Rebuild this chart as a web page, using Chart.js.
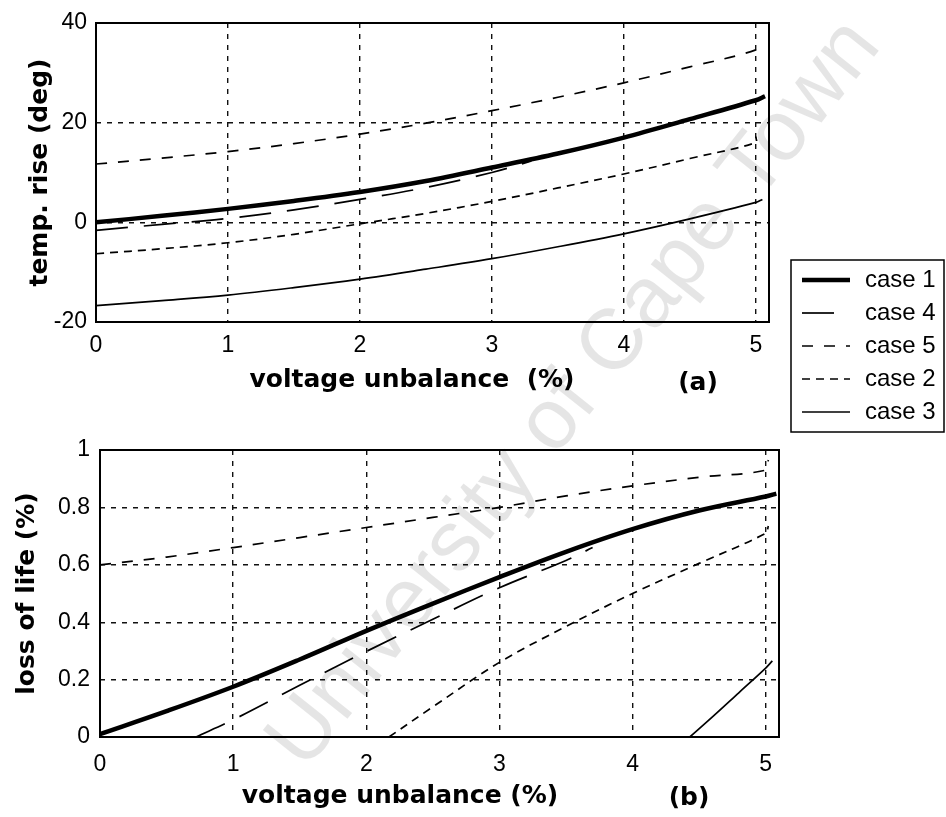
<!DOCTYPE html>
<html>
<head>
<meta charset="utf-8">
<script src="https://cdn.jsdelivr.net/npm/chart.js@4.4.1/dist/chart.umd.min.js"></script>
<style>
html, body { margin: 0; padding: 0; background: #fff; }
#wrap { position: relative; width: 946px; height: 817px; overflow: hidden; background: #fff; }
#wrap canvas { position: absolute; left: 0; top: 0; }
</style>
</head>
<body>
<div id="wrap">
  <canvas id="cTop" width="946" height="817"></canvas>
  <canvas id="cBot" width="946" height="817"></canvas>
</div>
<script>
// ---------- data ----------
const seriesNames = ['case 1', 'case 4', 'case 5', 'case 2', 'case 3'];
const xTicks = [0, 1, 2, 3, 4, 5];
const tempTicks = [-20, 0, 20, 40];
const lifeTicks = [0, 0.2, 0.4, 0.6, 0.8, 1];

const xTitleA = 'voltage unbalance  (%)';
const xTitleB = 'voltage unbalance (%)';
const tagA = '(a)';
const tagB = '(b)';
const yTitleA = 'temp. rise (deg)';
const yTitleB = 'loss of life (%)';
const watermark = 'University of Cape Town';

// (a) temperature rise (deg) vs voltage unbalance (%)
const tempCase1X = [0, 0.5, 1, 1.5, 2, 2.5, 3, 3.5, 4, 4.5, 5, 5.07];
const tempCase1Y = [0, 1.3, 2.7, 4.3, 6.1, 8.3, 11, 13.8, 17, 20.7, 24.5, 25.3];
const tempCase4X = [0, 0.5, 1, 1.5, 2, 2.5, 3, 3.3];
const tempCase4Y = [-1.6, -0.4, 0.8, 2.5, 4.6, 7, 10, 12.3];
const tempCase5X = [0, 0.5, 1, 1.5, 2, 2.5, 3, 3.5, 4, 4.5, 5, 5];
const tempCase5Y = [11.7, 12.9, 14.2, 15.8, 17.7, 19.9, 22.4, 25.1, 28, 31.2, 34.6, 35.8];
const tempCase2X = [0, 0.5, 1, 1.5, 2, 2.5, 3, 3.5, 4, 4.5, 5, 5];
const tempCase2Y = [-6.3, -5.3, -4.1, -2.4, -0.3, 1.8, 4.2, 6.9, 9.7, 12.8, 16, 17.2];
const tempCase3X = [0, 0.5, 1, 1.5, 2, 2.5, 3, 3.5, 4, 4.5, 5, 5.05];
const tempCase3Y = [-16.7, -15.7, -14.6, -13.1, -11.4, -9.4, -7.3, -4.9, -2.3, 0.7, 4, 4.6];

// (b) loss of life (%) vs voltage unbalance (%)
const lifeCase1X = [0, 0.5, 1, 1.5, 2, 2.5, 3, 3.5, 4, 4.5, 5, 5.08];
const lifeCase1Y = [0.01, 0.09, 0.175, 0.27, 0.37, 0.465, 0.557, 0.645, 0.724, 0.789, 0.838, 0.848];
const lifeCase4X = [0.72, 1, 1.5, 2, 2.5, 3, 3.5, 3.7];
const lifeCase4Y = [0, 0.06, 0.18, 0.298, 0.41, 0.52, 0.615, 0.66];
const lifeCase5X = [0, 0.5, 1, 1.5, 2, 2.5, 3, 3.5, 4, 4.5, 5, 5.02];
const lifeCase5Y = [0.6, 0.627, 0.66, 0.695, 0.73, 0.765, 0.8, 0.84, 0.875, 0.905, 0.93, 0.965];
const lifeCase2X = [2.17, 2.5, 3, 3.5, 4, 4.5, 5, 5.02];
const lifeCase2Y = [0, 0.105, 0.26, 0.385, 0.5, 0.605, 0.71, 0.735];
const lifeCase3X = [4.43, 4.6, 4.8, 5, 5.05];
const lifeCase3Y = [0, 0.07, 0.155, 0.24, 0.265];

// ---------- styles ----------
const lineStyles = [
  { width: 4.5, dash: [] },       // case 1
  { width: 1.7, dash: [32, 16] }, // case 4
  { width: 1.7, dash: [11, 11] }, // case 5
  { width: 1.7, dash: [8, 6] },   // case 2
  { width: 1.7, dash: [] }        // case 3
];
const tickFont = { family: 'Liberation Sans', size: 23 };
const titleFont = { family: 'DejaVu Sans', size: 25, weight: 'bold' };

function pts(xs, ys) { return xs.map((x, i) => ({ x: x, y: ys[i] })); }

function makeDatasets(seriesList) {
  return seriesList.map((s, i) => ({
    label: seriesNames[i],
    data: pts(s[0], s[1]),
    borderColor: '#000',
    backgroundColor: '#000',
    borderWidth: lineStyles[i].width,
    borderDash: lineStyles[i].dash,
    pointRadius: 0,
    fill: false,
    tension: 0.35,
    borderCapStyle: 'butt'
  }));
}

const boxPlugin = {
  id: 'plotBox',
  afterDatasetsDraw(chart) {
    const { ctx, chartArea: a } = chart;
    ctx.save();
    ctx.setLineDash([]);
    ctx.strokeStyle = '#000';
    ctx.lineWidth = 2;
    ctx.strokeRect(a.left, a.top, a.right - a.left, a.bottom - a.top);
    ctx.restore();
  }
};

const captionPlugin = {
  id: 'captions',
  afterDraw(chart, args, opts) {
    const ctx = chart.ctx;
    ctx.save();
    ctx.fillStyle = '#000';
    ctx.font = 'bold 25px "DejaVu Sans"';
    ctx.textAlign = 'center';
    ctx.textBaseline = 'middle';
    (opts.items || []).forEach(it => ctx.fillText(it.text, it.x, it.y));
    ctx.restore();
  }
};

const legendPlugin = {
  id: 'caseLegend',
  afterDraw(chart, args, o) {
    if (!o || !o.show) return;
    const ctx = chart.ctx;
    ctx.save();
    ctx.fillStyle = '#fff';
    ctx.fillRect(o.left, o.top, o.width, o.height);
    ctx.strokeStyle = '#000';
    ctx.lineWidth = 1.5;
    ctx.setLineDash([]);
    ctx.strokeRect(o.left, o.top, o.width, o.height);
    ctx.font = '24px "Liberation Sans"';
    ctx.textBaseline = 'middle';
    ctx.textAlign = 'left';
    ctx.fillStyle = '#000';
    chart.data.datasets.forEach((ds, i) => {
      const y = o.rowTop + i * o.rowGap;
      ctx.lineWidth = ds.borderWidth;
      ctx.setLineDash(ds.borderDash || []);
      ctx.beginPath();
      ctx.moveTo(o.sampleX, y);
      ctx.lineTo(o.sampleX + o.sampleLen, y);
      ctx.stroke();
      ctx.setLineDash([]);
      ctx.fillText(ds.label, o.textX, y);
    });
    ctx.restore();
  }
};

const watermarkPlugin = {
  id: 'watermark',
  afterDraw(chart, args, o) {
    if (!o || !o.text) return;
    const ctx = chart.ctx;
    ctx.save();
    ctx.translate(o.x, o.y);
    ctx.rotate(o.angle * Math.PI / 180);
    ctx.font = o.size + 'px "Liberation Sans"';
    ctx.fillStyle = 'rgba(0,0,0,0.1)';
    ctx.textBaseline = 'alphabetic';
    ctx.textAlign = 'left';
    ctx.fillText(o.text, 0, 0);
    ctx.restore();
  }
};

function makeScales(cfg) {
  return {
    x: {
      type: 'linear',
      min: 0,
      max: 5.1,
      afterBuildTicks: s => { s.ticks = xTicks.map(v => ({ value: v })); },
      afterFit: s => { s.height = 40; },
      ticks: { font: tickFont, color: '#000', padding: cfg.xPad, maxRotation: 0,
               callback: v => String(v) },
      grid: { color: '#111', lineWidth: 1.4, drawTicks: false },
      border: { display: false, dash: [5, 6] }
    },
    y: {
      type: 'linear',
      min: cfg.yMin,
      max: cfg.yMax,
      afterBuildTicks: s => { s.ticks = cfg.yTicks.map(v => ({ value: v })); },
      afterFit: s => { s.width = cfg.yWidth; },
      ticks: { font: tickFont, color: '#000', padding: cfg.yPad,
               callback: v => String(v) },
      grid: { color: '#111', lineWidth: 1.4, drawTicks: false },
      border: { display: false, dash: [5, 6] },
      title: { display: true, text: cfg.yTitle, font: titleFont, color: '#000',
               padding: { top: cfg.titlePad, bottom: 0 } }
    }
  };
}

Chart.defaults.font.family = 'Liberation Sans';

new Chart(document.getElementById('cTop'), {
  type: 'line',
  data: {
    datasets: makeDatasets([
      [tempCase1X, tempCase1Y], [tempCase4X, tempCase4Y], [tempCase5X, tempCase5Y],
      [tempCase2X, tempCase2Y], [tempCase3X, tempCase3Y]
    ])
  },
  options: {
    responsive: false,
    animation: false,
    events: [],
    layout: { padding: { left: 0, top: 23, right: 177, bottom: 455 } },
    scales: makeScales({ yMin: -20, yMax: 40, yTicks: tempTicks, yWidth: 96, yPad: 9,
                         xPad: 10, yTitle: yTitleA, titlePad: 25 }),
    plugins: {
      legend: { display: false },
      tooltip: { enabled: false },
      captions: { items: [ { text: xTitleA, x: 412, y: 380 }, { text: tagA, x: 698, y: 383 } ] }
    }
  },
  plugins: [boxPlugin, captionPlugin]
});

new Chart(document.getElementById('cBot'), {
  type: 'line',
  data: {
    datasets: makeDatasets([
      [lifeCase1X, lifeCase1Y], [lifeCase4X, lifeCase4Y], [lifeCase5X, lifeCase5Y],
      [lifeCase2X, lifeCase2Y], [lifeCase3X, lifeCase3Y]
    ])
  },
  options: {
    responsive: false,
    animation: false,
    events: [],
    layout: { padding: { left: 0, top: 450, right: 167, bottom: 40 } },
    scales: makeScales({ yMin: 0, yMax: 1, yTicks: lifeTicks, yWidth: 100, yPad: 10,
                         xPad: 14, yTitle: yTitleB, titlePad: 12 }),
    plugins: {
      legend: { display: false },
      tooltip: { enabled: false },
      captions: { items: [ { text: xTitleB, x: 400, y: 796 }, { text: tagB, x: 689, y: 798 } ] },
      caseLegend: { show: true, left: 791, top: 260, width: 153, height: 172,
                    rowTop: 280, rowGap: 33, sampleX: 802, sampleLen: 48, textX: 865 },
      watermark: { text: watermark, x: 305, y: 772, angle: -51.5, size: 86 }
    }
  },
  plugins: [boxPlugin, captionPlugin, legendPlugin, watermarkPlugin]
});
</script>
</body>
</html>
